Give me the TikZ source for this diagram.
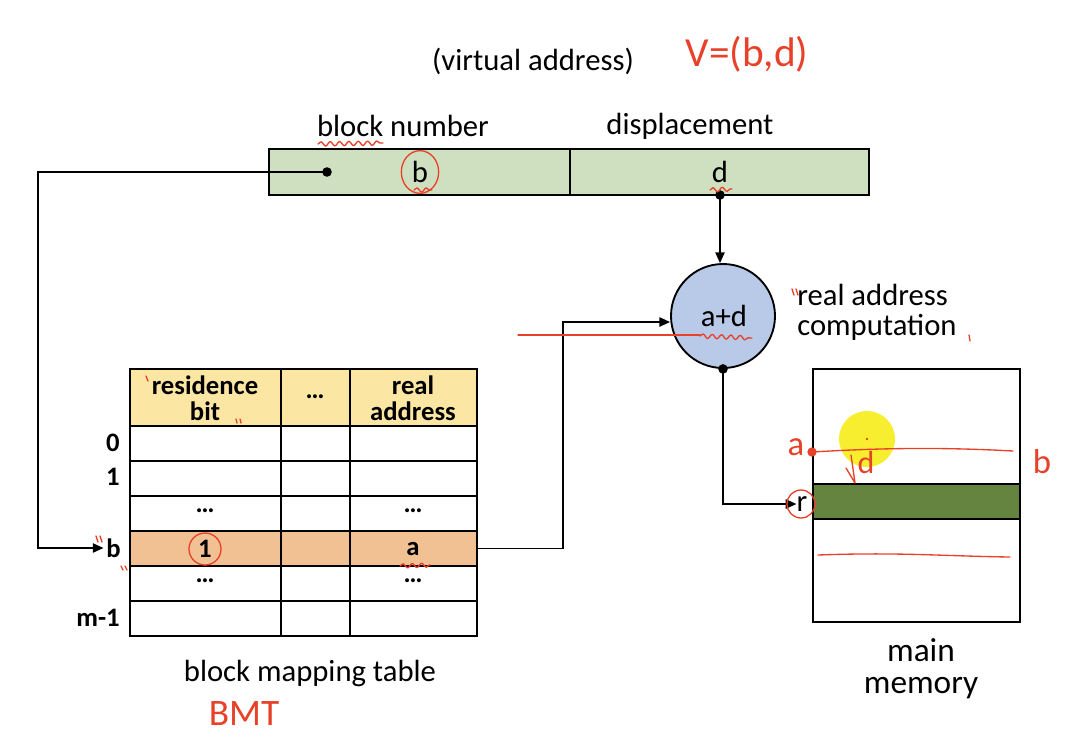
\documentclass[tikz,border=0pt]{standalone}
\usepackage{fontspec}
\setmainfont{Carlito}
\usetikzlibrary{arrows.meta,fit,decorations.pathmorphing}
\definecolor{vagreen}{HTML}{CFE0C0}
\definecolor{cblue}{HTML}{B9CAE8}
\definecolor{hdryel}{HTML}{FCE6A3}
\definecolor{rowpeach}{HTML}{F2C193}
\definecolor{memgreen}{HTML}{64843F}
\definecolor{pen}{HTML}{E8412A}
\definecolor{hilite}{HTML}{F8EE30}
\tikzset{
  lbl/.style={font=\fontsize{23}{22.5}\selectfont, inner sep=0pt},
  big/.style={font=\fontsize{25}{27}\selectfont, inner sep=0pt, anchor=base},
  tbl/.style={font=\bfseries\fontsize{20}{19.5}\selectfont, inner sep=0pt, align=center},
  cell/.style={draw, line width=1.4pt, inner sep=0pt},
  conn/.style={draw, line width=1.1pt},
  arr/.style={conn, -{Triangle[length=8pt,width=7pt]}},
  hand/.style={draw=pen, line width=1pt, line cap=round, line join=round},
  squig/.style={hand, decorate, decoration={snake, amplitude=1.6pt, segment length=7pt}},
  handtext/.style={text=pen, inner sep=0pt, font=\fontsize{26}{28}\selectfont}
}
\begin{document}
\begin{tikzpicture}[x=0.75pt,y=-0.75pt]
\useasboundingbox (0,0) rectangle (1074,740);
\fill[white] (0,0) rectangle (1074,740);

% ---- virtual address
\node[lbl] (vatitle) at (533,61) {(virtual address)};
\node[lbl] (bnlabel) at (403,126) {block number};
\node[lbl] (displabel) at (690,126) {displacement};
\node[cell, fill=vagreen, fit={(269,149) (570,195)}] (vb) {};
\node[cell, fill=vagreen, fit={(570,149) (869,195)}] (vd) {};
\node[lbl] (btxt) at (420,172) {b};
\node[lbl] (dtxt) at (720,172) {d};
\coordinate (bdot) at (327,172);
\coordinate (ddot) at (720,195);

% ---- computation circle
\node[circle, draw, line width=1.4pt, fill=cblue, minimum size=78pt, inner sep=0pt] (adc) at (723,316) {};
\node[lbl] (adtxt) at (724,316) {a+d};
\node[lbl, align=left, anchor=west] (rac) at (797,312) {real address\\computation};

% ---- block mapping table
\fill[hdryel] (130,369) rectangle (477,426);
\fill[rowpeach] (130,531) rectangle (477,566);
\node[inner sep=0pt, fit={(130,531) (477,566)}] (rowb) {};
\draw[line width=1.4pt] (130,369) rectangle (477,636);
\foreach \yy in {426,461,496,531,566,601} \draw[line width=1.4pt] (130,\yy) -- (477,\yy);
\foreach \xx in {281,350} \draw[line width=1.4pt] (\xx,369) -- (\xx,636);
\node[tbl] (h1) at (205,398) {residence\\bit};
\node[tbl] (h2) at (315,397) {…};
\node[tbl] (h3) at (413,398) {real\\address};
\node[tbl] (c21) at (205,511) {…};
\node[tbl] (c23) at (413,511) {…};
\node[tbl] (cb1) at (205,549) {1};
\node[tbl] (cb3) at (413,549) {a};
\node[tbl] (c41) at (205,581) {…};
\node[tbl] (c43) at (413,581) {…};
\node[tbl, anchor=east] (r0) at (120,443) {0};
\node[tbl, anchor=east] (r1) at (120,477) {1};
\node[tbl, anchor=east] (lb) at (121,548) {b};
\node[tbl, anchor=east] (rm) at (120,618) {m-1};
\node[lbl] (bmt) at (310,673) {block mapping table};

% ---- main memory
\node[cell, fit={(813,369) (1020,622)}] (mem) {};
\node[cell, fill=memgreen, fit={(813,484) (1020,519)}] (blk) {};
\node[big] (memtxt1) at (921,661) {main};
\node[big] (memtxt2) at (921,693) {memory};

% ---- highlight (under annotations)
\fill[hilite] (867,439) circle (21pt);

\node[lbl] (rl) at (802,504) {r};

% ---- connectors
\coordinate (c1) at (38,172);
\coordinate (c2) at (563,322);
\draw[arr] (bdot) -- (c1) |- ([xshift=-2pt]lb.west);
\fill (bdot) circle (3.6pt);
\draw[arr] (rowb.east) -| (c2) -- (adc.west |- c2);
\draw[arr] (ddot) -- (ddot |- adc.north);
\fill (ddot) circle (3.6pt);
\draw[arr] (adc.south) |- (rl.west);
\fill (adc.south) circle (3.6pt);

% ---- handwritten annotations
\node[handtext, font=\fontsize{31}{33}\selectfont] (vbd) at (747,54) {V=(b,d)};
\node[handtext, font=\fontsize{28}{30}\selectfont] (bmtnote) at (244,714) {BMT};
\draw[squig] (318,144) -- (383,143);
\draw[hand] (420,172) ellipse (14pt and 16pt);
\draw[squig] (414,190) -- (432,190);
\draw[squig] (710,190) -- (732,189);
\draw[hand] (518,335) -- (700,335);
\draw[squig] (700,336) -- (752,338);
\draw[hand] (205,549) circle (12pt);
\draw[squig] (400,566) -- (430,565);
\draw[hand] (146,376) -- (148,381);
\draw[hand] (236,419) -- (237,423) (240,419) -- (241,423);
\draw[hand] (96,536) -- (98,542) (100,536) -- (102,542);
\draw[hand] (121,566) -- (123,570) (125,566) -- (127,570);
\draw[hand] (792,289) -- (794,295) (796,289) -- (798,295);
\draw[hand] (969,335) -- (970,341);
\fill[pen] (867,439) circle (1pt);
\fill[pen] (812,452) circle (3.5pt);
\node[handtext] (anote) at (796,447) {a};
\draw[hand] (812,452) .. controls (880,448) and (940,447) .. (1013,451);
\node[handtext] (bnote) at (1042,462) {b};
\draw[hand] (851,455) -- (855,483) -- (846,468);
\node[handtext, font=\fontsize{24}{26}\selectfont] (dnote) at (866,462) {d};
\draw[hand] (818,555) .. controls (900,552) and (940,556) .. (1010,557);
\draw[hand] (801,504) circle (10.5pt);
\end{tikzpicture}
\end{document}
